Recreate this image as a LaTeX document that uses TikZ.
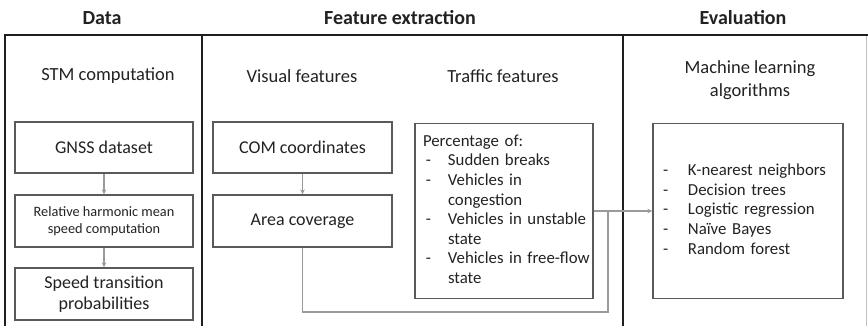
\documentclass[tikz,border=0pt]{standalone}
\usepackage{fontspec}
\setmainfont{Carlito}
\usetikzlibrary{arrows.meta}
\newcommand{\fhead}{\fontsize{20}{23}\selectfont\bfseries}
\newcommand{\fsub}{\fontsize{18.5}{23}\selectfont}
\newcommand{\fboxt}{\fontsize{18}{21}\selectfont}
\newcommand{\fsmall}{\fontsize{14.3}{17}\selectfont}
\newcommand{\flist}{\fontsize{16.8}{19.6}\selectfont}
\definecolor{txt}{HTML}{222222}
\definecolor{boxc}{HTML}{5A5A5A}
\definecolor{conc}{HTML}{9A9A9A}
\definecolor{framec}{HTML}{1E1E1E}
\begin{document}
\begin{tikzpicture}[x=1pt,y=-1pt,
  every node/.style={text=txt},
  head/.style={font=\fhead},
  sub/.style={font=\fsub, align=center},
  stepbox/.style={draw=boxc, line width=1.3pt, minimum width=178pt, minimum height=51pt, inner sep=0pt, align=center, font=\fboxt},
  listbox/.style={draw=boxc, line width=1.3pt, minimum height=175pt, inner ysep=0pt, align=left, font=\flist},
  conn/.style={draw=conc, line width=1.3pt},
  arr/.style={conn, -{Stealth[length=5pt,width=4.5pt]}},
  frame/.style={draw=framec, line width=2.2pt}
]
\useasboundingbox (0,0) rectangle (868,326);
% frame
\draw[frame] (5,326) -- (5,35) -- (868,35);
\draw[frame] (202,35) -- (202,326);
\draw[frame] (623,35) -- (623,326);
\draw[draw=black!25, line width=1pt] (866,36) -- (866,326);
% headings
\node[head] (hdata) at (102,18) {Data};
\node[head] (hfeat) at (400,18) {Feature extraction};
\node[head] (heval) at (743,18) {Evaluation};
% subtitles
\node[sub] (stm) at (108,76) {STM computation};
\node[sub] (vis) at (302,76) {Visual features};
\node[sub] (traf) at (503,76) {Traffic features};
\node[sub] (mlt) at (750,80) {Machine learning\\algorithms};
% data column
\node[stepbox] (gnss) at (104,147.5) {GNSS dataset};
\node[stepbox, minimum height=52pt, font=\fsmall] (rel) at (104,221) {Relative harmonic mean\\speed computation};
\node[stepbox, minimum height=52pt] (speed) at (104,294) {Speed transition\\probabilities};
\draw[arr] (gnss.south) -- (rel.north);
\draw[arr] (rel.south) -- (speed.north);
% visual features
\node[stepbox, minimum width=179pt] (com) at (302.5,147.5) {COM coordinates};
\node[stepbox, minimum width=179pt, minimum height=52pt] (area) at (302.5,221) {Area coverage};
\draw[arr] (com.south) -- (area.north);
% traffic features
\node[listbox, minimum width=178pt, inner xsep=8pt, text width=162pt] (traffic) at (504,211) {%
\begin{tabular}{@{}p{25pt}@{}l@{}}
\multicolumn{2}{@{}l@{}}{Percentage of:}\\
\,- & Sudden breaks\\
\,- & Vehicles in\\
   & congestion\\
\,- & Vehicles in unstable\\
   & state\\
\,- & Vehicles in free-flow\\
   & state
\end{tabular}};
% ML
\node[listbox, minimum width=190pt, inner xsep=10pt, text width=170pt] (ml) at (748,211) {%
\begin{tabular}{@{}p{25pt}@{}l@{}}
- & K-nearest neighbors\\
- & Decision trees\\
- & Logistic regression\\
- & Naïve Bayes\\
- & Random forest
\end{tabular}};
% connectors
\coordinate (jb) at (608,312);
\coordinate (j) at (608,211);
\draw[conn] (area.south) |- (jb) -- (j);
\draw[arr] (traffic.east) -- (ml.west);
\end{tikzpicture}
\end{document}
